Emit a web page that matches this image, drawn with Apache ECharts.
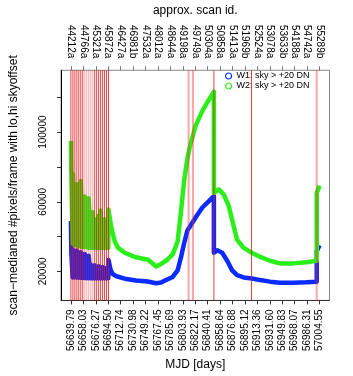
<!DOCTYPE html>
<html>
<head>
<meta charset="utf-8">
<script src="https://cdn.jsdelivr.net/npm/echarts@6/dist/echarts.min.js"></script>
<style>
  html, body { margin: 0; padding: 0; background: #fff; }
  #chart { width: 353px; height: 376px; }
</style>
</head>
<body>
<div id="chart"></div>
<script>
const BLUE = '#0a2bff';
const GREEN = '#2bef1a';
const RED = 'rgba(232,20,20,0.8)';
const PINK = 'rgba(255,40,40,0.42)';
const FONT = 'Liberation Sans';

// tick positions (MJD) and the two label rows
const mjdTicks = [56639.79, 56658.03, 56676.27, 56694.50, 56712.74, 56730.98, 56749.22,
  56767.45, 56785.69, 56803.93, 56822.17, 56840.41, 56858.64, 56876.88, 56895.12,
  56913.36, 56931.60, 56949.83, 56968.07, 56986.31, 57004.55];
const mjdLabels = ['56639.79', '56658.03', '56676.27', '56694.50', '56712.74', '56730.98', '56749.22',
  '56767.45', '56785.69', '56803.93', '56822.17', '56840.41', '56858.64', '56876.88', '56895.12',
  '56913.36', '56931.60', '56949.83', '56968.07', '56986.31', '57004.55'];
const scanIds = ['44212a', '44766a', '45321a', '45872a', '46427a', '46981b', '47532a', '48012a',
  '48644a', '49198a', '49749a', '50304a', '50858a', '51413a', '51969b', '52524a', '53078a',
  '53633b', '54188a', '54742a', '55289b'];
const yTicks = [20000, 40000, 60000, 80000, 100000, 120000];
const yLabels = [20000, 60000, 100000];

// W1 (blue): [MJD, pixels/frame]
const w1 = [
  [56639.8, 49000], [56640.4, 30000], [56642.3, 16500],
  [56642.6, 32500], [56645.2, 16500], [56645.5, 30000], [56648.1, 16500],
  [56648.4, 32000], [56651.0, 16300], [56651.3, 29500], [56653.9, 16300],
  [56654.2, 31000], [56656.8, 16200], [56657.1, 28000], [56659.8, 16200],
  [56660.1, 30000], [56662.7, 16000], [56663.0, 27000], [56665.6, 16000],
  [56665.9, 29000], [56668.5, 16000], [56668.8, 24000], [56671.4, 16000],
  [56671.7, 23000], [56674.3, 16000], [56674.6, 23500], [56677.2, 16000],
  [56677.5, 22500], [56680.1, 16000], [56680.4, 23000], [56683.0, 16000],
  [56683.3, 22000], [56685.9, 16000], [56686.2, 22500], [56688.8, 16000],
  [56689.1, 22000], [56691.7, 16000], [56692.0, 21500], [56694.6, 16000],
  [56694.9, 26500], [56697.9, 21000], [56701.0, 18500], [56706.6, 17200],
  [56721.1, 15600], [56735.0, 14800], [56752.0, 14200], [56764.8, 13200],
  [56772.0, 13600], [56779.3, 15000], [56789.0, 16800], [56796.3, 20600],
  [56801.1, 27900], [56805.9, 36300], [56810.8, 43700], [56815.6, 46500],
  [56822.9, 51100], [56832.6, 56700], [56842.2, 60400], [56849.5, 63300],
  [56849.5, 30700], [56854.4, 32100], [56861.7, 30700], [56869.0, 26100],
  [56876.3, 20600], [56883.5, 17800], [56893.1, 16500], [56905.3, 15900],
  [56917.4, 15000], [56931.9, 14100], [56946.5, 13500], [56965.8, 13500],
  [56985.3, 13700], [57000.4, 14100], [57000.4, 31700], [57004.6, 35000]
];

// W2 (green): [MJD, pixels/frame]
const w2 = [
  [56639.8, 95000], [56640.2, 80000], [56642.3, 36000],
  [56642.6, 76000], [56645.2, 35000], [56645.5, 68000], [56648.1, 35000],
  [56648.4, 70000], [56651.0, 34500], [56651.3, 66000], [56653.9, 34500],
  [56654.2, 72000], [56656.8, 34000], [56657.1, 62000], [56659.8, 34000],
  [56660.1, 63000], [56662.7, 34000], [56663.0, 58000], [56665.6, 33500],
  [56665.9, 62000], [56668.5, 33500], [56668.8, 52000], [56671.4, 33500],
  [56671.7, 54000], [56674.3, 33500], [56674.6, 50000], [56677.2, 33500],
  [56677.5, 49000], [56680.1, 33500], [56680.4, 52000], [56683.0, 33500],
  [56683.3, 55000], [56685.9, 33500], [56686.2, 48000], [56688.8, 33500],
  [56689.1, 50000], [56691.7, 33500], [56692.0, 46000], [56694.6, 33500],
  [56694.9, 55500], [56697.0, 50000], [56699.3, 44600], [56704.1, 37200],
  [56709.1, 33500], [56718.7, 30700], [56733.2, 28300], [56747.7, 27100],
  [56753.1, 26700], [56764.8, 22800], [56772.0, 24300], [56779.3, 26100],
  [56789.0, 29800], [56796.3, 37200], [56801.1, 53900], [56805.9, 72400],
  [56810.8, 85400], [56815.6, 93700], [56822.9, 103900], [56832.6, 112200],
  [56842.2, 118700], [56849.5, 123300],
  [56849.5, 65000], [56856.8, 67200], [56864.0, 64100], [56871.3, 57600],
  [56877.7, 47400], [56883.5, 38200], [56893.1, 33500], [56905.3, 30700],
  [56917.4, 28300], [56931.9, 26100], [56946.5, 24600], [56965.8, 24600],
  [56985.3, 25200], [57000.4, 26100], [57000.4, 65000], [57004.6, 69300]
];

// scan boundaries (MJD); dense ones are thin, the faint ones are pink
const scanLines = [56639.7, 56642.6, 56645.5, 56648.4, 56651.3, 56654.2, 56657.1,
  56674.6, 56677.5, 56680.4, 56683.3, 56686.2, 56689.1, 56692.0, 56694.9,
  56849.5, 56904.7];
const faintDense = [56660.1, 56663.0, 56665.9, 56668.8, 56671.7];
const faintLines = [56812.4, 56818.8, 57000.3];

const X_MIN = 56625.2;
const X_MAX = 57019.1;
const Y_MIN = 3333;
const Y_MAX = 135556;

// each boundary becomes a full-height segment, broken with '-' between them
const toVertical = list => list.flatMap(v => [[v, Y_MIN], [v, Y_MAX], [v, '-']]);

function boundarySeries(name, list, color, width) {
  return {
    name,
    type: 'line',
    showSymbol: false,
    connectNulls: false,
    silent: true,
    lineStyle: {color, width},
    itemStyle: {color},
    data: toVertical(list),
    z: 5
  };
}

const tickLabel = {fontFamily: FONT, fontSize: 10, color: '#000'};
const legendItem = (name, color) => ({
  name, itemStyle: {color: '#fff', borderColor: color, borderWidth: 1.2}
});

const chartOptions = {
  animation: false,
  textStyle: {fontFamily: FONT},
  grid: {
    left: 59, right: 23.5, top: 63.5, bottom: 75,
    show: true, borderColor: '#888', borderWidth: 1
  },
  legend: {
    orient: 'vertical',
    left: 220, top: 66,
    icon: 'circle',
    itemWidth: 6, itemHeight: 6, itemGap: 0,
    textStyle: {fontFamily: FONT, fontSize: 9, lineHeight: 10, color: '#000'},
    data: [legendItem('W1: sky > +20 DN', BLUE), legendItem('W2: sky > +20 DN', GREEN)]
  },
  xAxis: [{
    type: 'value',
    position: 'bottom',
    min: X_MIN, max: X_MAX,
    name: 'MJD [days]',
    nameLocation: 'middle',
    nameGap: 56,
    nameTextStyle: {fontFamily: FONT, fontSize: 12, color: '#000'},
    splitLine: {show: false},
    axisLine: {show: true, onZero: false, lineStyle: {color: '#333'}},
    axisTick: {show: true, length: 4, customValues: mjdTicks, lineStyle: {color: '#333'}},
    axisLabel: {
      ...tickLabel, rotate: 90, margin: 9, customValues: mjdTicks,
      formatter: v => mjdLabels[mjdTicks.indexOf(v)]
    }
  }, {
    type: 'value',
    position: 'top',
    min: X_MIN, max: X_MAX,
    name: 'approx. scan id.',
    nameLocation: 'middle',
    nameGap: 48,
    nameTextStyle: {fontFamily: FONT, fontSize: 12, color: '#000'},
    splitLine: {show: false},
    axisLine: {show: false},
    axisTick: {show: true, length: 4, customValues: mjdTicks, lineStyle: {color: '#777'}},
    axisLabel: {
      ...tickLabel, rotate: 90, margin: 12, customValues: mjdTicks,
      formatter: v => scanIds[mjdTicks.indexOf(v)]
    }
  }],
  yAxis: {
    type: 'value',
    min: Y_MIN, max: Y_MAX,
    name: 'scan\u2212medianed #pixels/frame with lo,hi skyoffset',
    nameLocation: 'middle',
    nameRotate: 90,
    nameGap: 41,
    nameTextStyle: {fontFamily: FONT, fontSize: 12, color: '#000'},
    splitLine: {show: false},
    axisLine: {show: true, lineStyle: {color: '#000'}},
    axisTick: {show: true, length: 4, customValues: yTicks, lineStyle: {color: '#333'}},
    axisLabel: {
      ...tickLabel, rotate: 90, margin: 13, customValues: yLabels,
      formatter: v => String(v)
    }
  },
  series: [
    {
      name: 'W1: sky > +20 DN',
      type: 'line',
      showSymbol: false,
      itemStyle: {color: BLUE},
      lineStyle: {width: 4.5, color: BLUE, join: 'round'},
      data: w1,
      z: 2
    }, {
      name: 'W2: sky > +20 DN',
      type: 'line',
      showSymbol: false,
      itemStyle: {color: GREEN},
      lineStyle: {width: 4.5, color: GREEN, join: 'round'},
      data: w2,
      z: 3
    },
    boundarySeries('scan edges', scanLines, RED, 1),
    boundarySeries('scan edges faint', faintDense, PINK, 1),
    boundarySeries('scan edges wide', faintLines, PINK, 2)
  ]
};

const chart = echarts.init(document.getElementById('chart'));
chart.setOption(chartOptions);
</script>
</body>
</html>
